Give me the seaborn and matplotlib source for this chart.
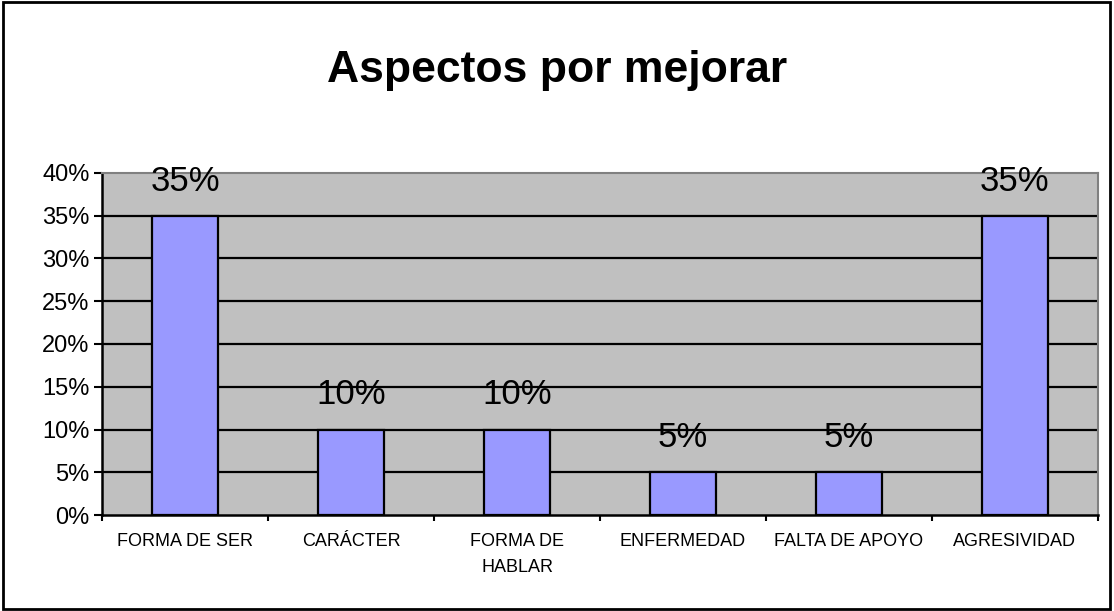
import pandas as pd
import seaborn as sns
import matplotlib.pyplot as plt
from matplotlib.patches import Rectangle
from matplotlib.ticker import FuncFormatter, FixedLocator

# Data
categories = ['FORMA DE SER', 'CARÁCTER', 'FORMA DE\nHABLAR', 'ENFERMEDAD', 'FALTA DE APOYO', 'AGRESIVIDAD']
values = [35, 10, 10, 5, 5, 35]
y_ticks = [0, 5, 10, 15, 20, 25, 30, 35, 40]

df = pd.DataFrame({'categoria': categories, 'valor': values})

sns.set_style('white')
plt.rcParams['font.family'] = ['Liberation Sans', 'DejaVu Sans']
plt.rcParams['text.color'] = 'black'
plt.rcParams['xtick.color'] = 'black'
plt.rcParams['ytick.color'] = 'black'

fig = plt.figure(figsize=(11.14, 6.11), dpi=100)
ax = fig.add_axes([0.0916, 0.1571, 0.8940, 0.5598])

ax.set_facecolor('#C0C0C0')
for y in y_ticks[1:-1]:
    ax.axhline(y, color='black', linewidth=1.6, zorder=0)

sns.barplot(data=df, x='categoria', y='valor', color='#9999FF', width=0.40,
            edgecolor='black', linewidth=1.6, saturation=1, ax=ax, zorder=2)

# value labels above the bars
for i, v in enumerate(values):
    ax.annotate(f'{v}%', (i, v), xytext=(0, 13), textcoords='offset points',
                ha='center', va='bottom', fontsize=25, zorder=3)

ax.set_xlim(-0.5, len(categories) - 0.5)
ax.set_ylim(0, 40)
ax.yaxis.set_major_locator(FixedLocator(y_ticks))
ax.yaxis.set_major_formatter(FuncFormatter(lambda v, p: f'{v:.0f}%'))
ax.tick_params(axis='y', left=True, length=6, width=1.5, labelsize=17, pad=3, color='black')
ax.tick_params(axis='x', which='major', length=0, labelsize=13, pad=13)
for lbl in ax.get_xticklabels():
    lbl.set_linespacing(1.7)
ax.set_xticks([i - 0.5 for i in range(len(categories) + 1)], minor=True)
ax.tick_params(axis='x', which='minor', bottom=True, length=4, width=1.5, color='black')
ax.set_xlabel('')
ax.set_ylabel('')

for side in ['top', 'right']:
    ax.spines[side].set_color('#808080')
    ax.spines[side].set_linewidth(1.5)
for side in ['left', 'bottom']:
    ax.spines[side].set_color('black')
    ax.spines[side].set_linewidth(1.8)

fig.text(0.5, 0.885, 'Aspectos por mejorar', ha='center', va='center',
         fontsize=32, fontweight='bold')

fig.patches.append(Rectangle((0.003, 0.004), 0.993, 0.992, transform=fig.transFigure,
                             fill=False, edgecolor='black', linewidth=2))

fig.savefig('out.png', dpi=100)
